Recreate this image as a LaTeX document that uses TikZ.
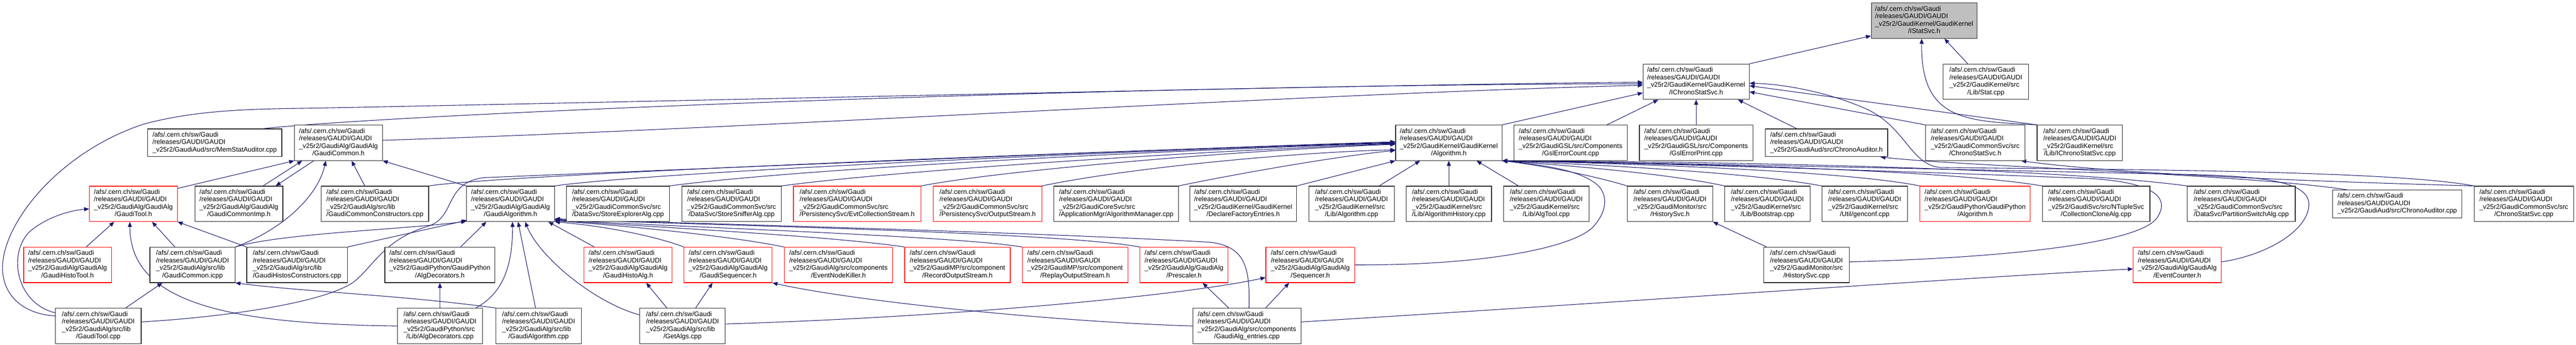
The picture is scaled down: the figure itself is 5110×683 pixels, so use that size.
\documentclass[tikz,border=0pt]{standalone}
\usepackage{fontspec}
\setmainfont{Liberation Sans}
\usetikzlibrary{arrows.meta}
\definecolor{edgeblue}{HTML}{191970}
\definecolor{topgray}{HTML}{BFBFBF}
\newcommand\nlab[2]{\begin{tabular}{@{}l@{}}/afs/.cern.ch/sw/Gaudi\\/releases/GAUDI/GAUDI\\#1\\\multicolumn{1}{@{}c@{}}{#2}\end{tabular}}
\newcommand\tlab[1]{\begin{tabular}{@{}l@{}}/afs/.cern.ch/sw/Gaudi\\/releases/GAUDI/GAUDI\\#1\end{tabular}}
\pgfdeclarelayer{bglayer}
\pgfdeclarelayer{edgelayer}
\pgfsetlayers{bglayer,edgelayer,main}
\tikzset{
  nd/.style={draw=black!85, line width=1.2pt, fill=white, inner sep=0pt, minimum height=70pt,
    font=\fontsize{13.2pt}{14.8pt}\selectfont, anchor=center},
  rd/.style={nd, draw=red},
  nd3/.style={nd, minimum height=55pt},
  conn/.style={draw=edgeblue, line width=1.1pt, -{Triangle[length=10pt,width=8pt]}},
}
\begin{document}
\begin{tikzpicture}[x=1pt,y=-1pt]
\begin{pgfonlayer}{bglayer}
\fill[white] (0,0) rectangle (5110,683);
\end{pgfonlayer}
\useasboundingbox (0,0) rectangle (5110,683);

% row 1
\node[nd, fill=topgray, minimum width=210pt] (istat) at (3817,41) {\nlab{\_v25r2/GaudiKernel/GaudiKernel}{/IStatSvc.h}};
% row 2
\node[nd, minimum width=210.6pt] (ichronoh) at (3364.6,162) {\nlab{\_v25r2/GaudiKernel/GaudiKernel}{/IChronoStatSvc.h}};
\node[nd, minimum width=169.3pt] (statcpp) at (3939.4,162) {\nlab{\_v25r2/GaudiKernel/src}{/Lib/Stat.cpp}};
% row 3
\node[nd3, minimum width=266.4pt] (memstat) at (425.8,283) {\tlab{\_v25r2/GaudiAud/src/MemStatAuditor.cpp}};
\node[nd, minimum width=174.2pt] (gcommonh) at (671.4,283) {\nlab{\_v25r2/GaudiAlg/GaudiAlg}{/GaudiCommon.h}};
\node[nd, minimum width=210.9pt] (algh) at (2874,283) {\nlab{\_v25r2/GaudiKernel/GaudiKernel}{/Algorithm.h}};
\node[nd, minimum width=225.6pt] (gslcount) at (3115.5,283) {\nlab{\_v25r2/GaudiGSL/src/Components}{/GslErrorCount.cpp}};
\node[nd, minimum width=225.2pt] (gslprint) at (3364.6,283) {\nlab{\_v25r2/GaudiGSL/src/Components}{/GslErrorPrint.cpp}};
\node[nd3, minimum width=242.8pt] (chronoaudh) at (3623.1,283) {\tlab{\_v25r2/GaudiAud/src/ChronoAuditor.h}};
\node[nd, minimum width=197.1pt] (chronosvch) at (3918.2,283) {\nlab{\_v25r2/GaudiCommonSvc/src}{/ChronoStatSvc.h}};
\node[nd, minimum width=169.4pt] (ichronocpp) at (4125.7,283) {\nlab{\_v25r2/GaudiKernel/src}{/Lib/IChronoStatSvc.cpp}};
% row 4
\node[rd, minimum width=174.2pt] (gtoolh) at (264.6,404) {\nlab{\_v25r2/GaudiAlg/GaudiAlg}{/GaudiTool.h}};
\node[nd, minimum width=174.2pt] (gcimp) at (473.9,404) {\nlab{\_v25r2/GaudiAlg/GaudiAlg}{/GaudiCommonImp.h}};
\node[nd, minimum width=213.3pt] (gcctor) at (743.7,404) {\nlab{\_v25r2/GaudiAlg/src/lib}{/GaudiCommonConstructors.cpp}};
\node[nd, minimum width=174.6pt] (galgh) at (1012.7,404) {\nlab{\_v25r2/GaudiAlg/GaudiAlg}{/GaudiAlgorithm.h}};
\node[nd, minimum width=204.3pt] (storeexp) at (1225.9,404) {\nlab{\_v25r2/GaudiCommonSvc/src}{/DataSvc/StoreExplorerAlg.cpp}};
\node[nd, minimum width=197.4pt] (storesniff) at (1451.3,404) {\nlab{\_v25r2/GaudiCommonSvc/src}{/DataSvc/StoreSnifferAlg.cpp}};
\node[rd, minimum width=253.2pt] (evtcoll) at (1700.4,404) {\nlab{\_v25r2/GaudiCommonSvc/src}{/PersistencySvc/EvtCollectionStream.h}};
\node[rd, minimum width=215pt] (outstream) at (1959.2,404) {\nlab{\_v25r2/GaudiCommonSvc/src}{/PersistencySvc/OutputStream.h}};
\node[nd, minimum width=246.9pt] (algmgr) at (2214.2,404) {\nlab{\_v25r2/GaudiCoreSvc/src}{/ApplicationMgr/AlgorithmManager.cpp}};
\node[nd, minimum width=211.4pt] (declfact) at (2466.1,404) {\nlab{\_v25r2/GaudiKernel/GaudiKernel}{/DeclareFactoryEntries.h}};
\node[nd, minimum width=169.3pt] (algcpp) at (2681,404) {\nlab{\_v25r2/GaudiKernel/src}{/Lib/Algorithm.cpp}};
\node[nd, minimum width=169.3pt] (alghist) at (2874,404) {\nlab{\_v25r2/GaudiKernel/src}{/Lib/AlgorithmHistory.cpp}};
\node[nd, minimum width=169.7pt] (algtool) at (3067.2,404) {\nlab{\_v25r2/GaudiKernel/src}{/Lib/AlgTool.cpp}};
\node[nd, minimum width=168.9pt] (histsvch) at (3312.8,404) {\nlab{\_v25r2/GaudiMonitor/src}{/HistorySvc.h}};
\node[nd, minimum width=169.3pt] (bootstrap) at (3506,404) {\nlab{\_v25r2/GaudiKernel/src}{/Lib/Bootstrap.cpp}};
\node[nd, minimum width=169.3pt] (genconf) at (3699,404) {\nlab{\_v25r2/GaudiKernel/src}{/Util/genconf.cpp}};
\node[rd, minimum width=218.7pt] (gpyalg) at (3918,404) {\nlab{\_v25r2/GaudiPython/GaudiPython}{/Algorithm.h}};
\node[nd, minimum width=213.4pt] (collclone) at (4158,404) {\nlab{\_v25r2/GaudiSvc/src/NTupleSvc}{/CollectionCloneAlg.cpp}};
\node[nd, minimum width=213.9pt] (partsw) at (4446,404) {\nlab{\_v25r2/GaudiCommonSvc/src}{/DataSvc/PartitionSwitchAlg.cpp}};
\node[nd3, minimum width=255.8pt] (chronoaudcpp) at (4755.3,404) {\tlab{\_v25r2/GaudiAud/src/ChronoAuditor.cpp}};
\node[nd, minimum width=197.3pt] (chronosvccpp) at (5006.4,404) {\nlab{\_v25r2/GaudiCommonSvc/src}{/ChronoStatSvc.cpp}};
% row 5
\node[rd, minimum width=174pt] (ghistotool) at (134,525) {\nlab{\_v25r2/GaudiAlg/GaudiAlg}{/GaudiHistoTool.h}};
\node[nd, minimum width=169pt] (gcicpp) at (381.9,525) {\nlab{\_v25r2/GaudiAlg/src/lib}{/GaudiCommon.icpp}};
\node[nd, minimum width=199.4pt] (ghistctor) at (589.3,525) {\nlab{\_v25r2/GaudiAlg/src/lib}{/GaudiHistosConstructors.cpp}};
\node[nd, minimum width=218.3pt] (algdech) at (872.6,525) {\nlab{\_v25r2/GaudiPython/GaudiPython}{/AlgDecorators.h}};
\node[rd, minimum width=175pt] (ghistoalg) at (1245.9,525) {\nlab{\_v25r2/GaudiAlg/GaudiAlg}{/GaudiHistoAlg.h}};
\node[rd, minimum width=174.7pt] (gseqh) at (1444.4,525) {\nlab{\_v25r2/GaudiAlg/GaudiAlg}{/GaudiSequencer.h}};
\node[rd, minimum width=214.6pt] (evnk) at (1663.1,525) {\nlab{\_v25r2/GaudiAlg/src/components}{/EventNodeKiller.h}};
\node[rd, minimum width=209.5pt] (recout) at (1899.3,525) {\nlab{\_v25r2/GaudiMP/src/component}{/RecordOutputStream.h}};
\node[rd, minimum width=209.3pt] (repout) at (2132.6,525) {\nlab{\_v25r2/GaudiMP/src/component}{/ReplayOutputStream.h}};
\node[rd, minimum width=174.7pt] (prescaler) at (2348.7,525) {\nlab{\_v25r2/GaudiAlg/GaudiAlg}{/Prescaler.h}};
\node[rd, minimum width=176.3pt] (seqh) at (2599.2,525) {\nlab{\_v25r2/GaudiAlg/GaudiAlg}{/Sequencer.h}};
\node[nd, minimum width=169.4pt] (histsvccpp) at (3583.5,525) {\nlab{\_v25r2/GaudiMonitor/src}{/HistorySvc.cpp}};
\node[rd, minimum width=174.7pt] (evcounter) at (4319,525) {\nlab{\_v25r2/GaudiAlg/GaudiAlg}{/EventCounter.h}};
% row 6
\node[nd, minimum width=170pt] (gtoolcpp) at (195,646) {\nlab{\_v25r2/GaudiAlg/src/lib}{/GaudiTool.cpp}};
\node[nd, minimum width=168.9pt] (algdeccpp) at (872.8,646) {\nlab{\_v25r2/GaudiPython/src}{/Lib/AlgDecorators.cpp}};
\node[nd, minimum width=169.3pt] (galgcpp) at (1068.4,646) {\nlab{\_v25r2/GaudiAlg/src/lib}{/GaudiAlgorithm.cpp}};
\node[nd, minimum width=169.7pt] (getalgs) at (1353.9,646) {\nlab{\_v25r2/GaudiAlg/src/lib}{/GetAlgs.cpp}};
\node[nd, minimum width=215pt] (gaentries) at (2473.5,646) {\nlab{\_v25r2/GaudiAlg/src/components}{/GaudiAlg\_entries.cpp}};

\begin{pgfonlayer}{edgelayer}
% to IStatSvc.h
\draw[conn] (ichronoh.north east) -- ([yshift=-30pt]istat.west);
\draw[conn] ([xshift=-36pt]statcpp.north) -- ([xshift=40pt]istat.south);
\draw[conn] (ichronocpp.north west) .. controls (3900,240) and (3810,240) .. ([xshift=-5pt]istat.south);
% to IChronoStatSvc.h
\draw[conn] ([xshift=96pt]memstat.north) .. controls (800,225) and (2200,168) .. ([yshift=-4pt]ichronoh.west);
\draw[conn] ([yshift=20pt]gtoolcpp.west) .. controls (40,622) and (5,580) .. (5,531)
  .. controls (5,440) and (120,300) .. (285,246) .. controls (400,215) and (520,216) .. (640,214)
  .. controls (1600,195) and (2800,166) .. ([yshift=-1pt]ichronoh.west);
\draw[conn] ([yshift=5pt]gcommonh.east) .. controls (1500,255) and (2600,185) .. ([yshift=-7pt]ichronoh.west);
\draw[conn] (algh.north east) -- ([yshift=-22pt]ichronoh.west);
\draw[conn] ([xshift=72pt]gslcount.north) -- ([xshift=-75pt]ichronoh.south);
\draw[conn] (gslprint) -- (ichronoh);
\draw[conn] ([xshift=-59pt]chronoaudh.north) -- ([xshift=83pt]ichronoh.south);
\draw[conn] (ichronocpp.north west) -- ([yshift=-8pt]ichronoh.east);
\draw[conn] (chronosvch.north west) -- ([yshift=-20pt]ichronoh.east);
\draw[conn] (chronosvccpp.north west) .. controls (4750,338) and (4200,336) .. (3850,332)
  .. controls (3790,328) and (3780,250) .. (3700,215) .. controls (3620,180) and (3530,166) .. ([yshift=-3pt]ichronoh.east);
% to GaudiCommon.h
\draw[conn] ([yshift=-5pt]gtoolh.north east) -- (gcommonh.south west);
\draw[conn] ([xshift=48pt]gcimp.north) -- ([xshift=-72pt]gcommonh.south);
\draw[conn] ([xshift=-49pt]gcommonh.south) -- ([xshift=73pt]gcimp.north);
\draw[conn] (gcicpp.north east) .. controls (560,455) and (630,390) .. ([xshift=-25pt]gcommonh.south);
\draw[conn] ([xshift=-20pt]gcctor.north) -- ([xshift=26pt]gcommonh.south);
\draw[conn] (galgh.north west) -- (gcommonh.south east);
% to GaudiTool.h
\draw[conn] ([xshift=37pt]ghistotool.north) -- ([xshift=-38pt]gtoolh.south);
\draw[conn] ([xshift=-35pt]gcicpp.north) -- ([xshift=37pt]gtoolh.south);
\draw[conn] (ghistctor.north west) -- (gtoolh.south east);
\draw[conn] ([yshift=26pt]gtoolcpp.west) .. controls (30,600) and (15,500) .. (60,458)
  .. controls (100,425) and (150,416) .. ([yshift=-10pt]gtoolh.west);
\draw[conn] (algdeccpp.west) .. controls (450,642) and (258,600) .. ([xshift=-7pt]gtoolh.south);
% to GaudiCommon.icpp
\draw[conn] ([xshift=54pt]gtoolcpp.north) -- ([xshift=-60pt]gcicpp.south);
\draw[conn] (galgcpp.north west) .. controls (800,585) and (600,578) .. (gcicpp.south east);
% to GaudiAlgorithm.h
\draw[conn] (gcicpp.north east) .. controls (560,462) and (800,455) .. ([yshift=1pt]galgh.south west);
\draw[conn] (ghistctor.north east) -- ([xshift=2pt,yshift=3pt]galgh.south west);
\draw[conn] ([xshift=41pt]algdech.north) -- ([xshift=-48pt]galgh.south);
\draw[conn] ([xshift=71pt]algdeccpp.north) .. controls (990,585) and (1017,540) .. ([xshift=4pt]galgh.south);
\draw[conn] ([xshift=-6pt]galgcpp.north) -- ([xshift=15pt]galgh.south);
\draw[conn] ([yshift=22pt]getalgs.west) .. controls (1180,600) and (1070,510) .. ([xshift=29pt]galgh.south);
\draw[conn] ([xshift=-67pt]ghistoalg.north) -- ([xshift=75pt]galgh.south);
\draw[conn] (gseqh.north west) .. controls (1300,468) and (1200,448) .. (galgh.south east);
\draw[conn] (evnk.north west) .. controls (1450,468) and (1250,448) .. ([yshift=2pt]galgh.south east);
\draw[conn] (recout.north west) .. controls (1650,468) and (1300,450) .. ([yshift=3pt]galgh.south east);
\draw[conn] (repout.north west) .. controls (1900,468) and (1350,450) .. ([yshift=4pt]galgh.south east);
\draw[conn] (prescaler.north west) .. controls (2100,460) and (1400,446) .. ([yshift=5pt]galgh.south east);
\draw[conn] ([xshift=4pt]gaentries.north) .. controls (2480,530) and (2470,488) .. (2400,480)
  .. controls (2000,458) and (1400,444) .. ([yshift=6pt]galgh.south east);
% lower rows
\draw[conn] ([xshift=-31pt]getalgs.north) -- ([xshift=36pt]ghistoalg.south);
\draw[conn] ([xshift=26pt]getalgs.north) -- ([xshift=-31pt]gseqh.south);
\draw[conn] ([yshift=4pt]getalgs.east) .. controls (1900,628) and (2350,585) .. ([yshift=-25pt]seqh.west);
\draw[conn] (gaentries.west) .. controls (2100,638) and (1700,598) .. (gseqh.south east);
\draw[conn] ([xshift=-36pt]gaentries.north) -- ([xshift=37pt]prescaler.south);
\draw[conn] ([xshift=37pt]gaentries.north) -- ([xshift=-42pt]seqh.south);
\draw[conn] ([yshift=8pt]gaentries.east) .. controls (3200,600) and (3900,550) .. ([yshift=-8pt]evcounter.west);
\draw[conn] (algdeccpp) -- (algdech);
% to Algorithm.h, left
\draw[conn] ([yshift=8pt]gtoolcpp.east) .. controls (450,628) and (640,600) .. (700,560)
  .. controls (740,530) and (760,475) .. (850,448) .. controls (905,430) and (880,362) .. (960,352)
  .. controls (1500,330) and (2400,292) .. ([yshift=2pt]algh.west);
\draw[conn] (gcctor.north east) .. controls (1000,345) and (2300,295) .. ([yshift=1pt]algh.west);
\draw[conn] (galgh.north east) .. controls (1300,340) and (2300,296) .. (algh.west);
\draw[conn] (storeexp.north east) .. controls (1600,332) and (2400,294) .. ([yshift=-1pt]algh.west);
\draw[conn] (storesniff.north east) .. controls (1800,335) and (2450,296) .. ([yshift=-2pt]algh.west);
\draw[conn] (evtcoll.north east) .. controls (2000,335) and (2500,296) .. ([yshift=-3pt]algh.west);
\draw[conn] (outstream.north east) .. controls (2250,330) and (2600,300) .. ([yshift=-14pt]algh.west);
\draw[conn] (algmgr.north east) .. controls (2450,345) and (2650,310) .. ([yshift=-15pt]algh.west);
\draw[conn] (declfact.north east) -- (algh.south west);
\draw[conn] ([xshift=55pt]algcpp.north) -- ([xshift=-57pt]algh.south);
\draw[conn] (alghist) -- (algh);
\draw[conn] ([xshift=-55pt]algtool.north) -- ([xshift=55pt]algh.south);
% to Algorithm.h, right
\draw[conn] (histsvch.north west) .. controls (3160,348) and (3060,328) .. (algh.south east);
\draw[conn] (bootstrap.north west) .. controls (3300,342) and (3080,326) .. (algh.south east);
\draw[conn] (genconf.north west) .. controls (3450,338) and (3100,324) .. (algh.south east);
\draw[conn] (gpyalg.north west) .. controls (3650,336) and (3150,322) .. (algh.south east);
\draw[conn] (collclone.north west) .. controls (3850,334) and (3250,322) .. (algh.south east);
\draw[conn] (partsw.north west) .. controls (4050,330) and (3350,320) .. (algh.south east);
\draw[conn] (seqh.east) .. controls (2950,526) and (3120,490) .. (3160,450)
  .. controls (3192,415) and (3190,378) .. (3160,360) .. controls (3120,332) and (3030,324) .. (algh.south east);
\draw[conn] ([yshift=6pt]histsvccpp.east) .. controls (4000,510) and (4250,480) .. (4280,430)
  .. controls (4305,390) and (4270,362) .. (4150,354) .. controls (3700,336) and (3200,322) .. (algh.south east);
\draw[conn] ([yshift=6pt]evcounter.east) .. controls (4500,505) and (4580,455) .. (4580,405)
  .. controls (4580,362) and (4500,350) .. (4350,346) .. controls (3800,334) and (3200,321) .. (algh.south east);
% others
\draw[conn] ([xshift=6pt]histsvccpp.north west) -- (histsvch.south east);
\draw[conn] ([xshift=28pt]chronoaudcpp.north west) .. controls (4450,345) and (3900,330) .. ([xshift=-15pt]chronoaudh.south east);
\draw[conn] (chronosvccpp.north west) .. controls (4600,360) and (4200,345) .. ([xshift=-8pt]chronosvch.south east);
\end{pgfonlayer}
\end{tikzpicture}
\end{document}
